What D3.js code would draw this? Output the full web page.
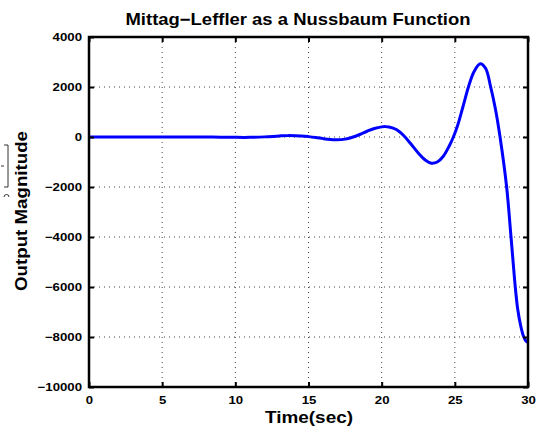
<!DOCTYPE html>
<html><head><meta charset="utf-8">
<script src="https://cdn.jsdelivr.net/npm/d3@7"></script>
<style>body{margin:0;background:#fff}svg{display:block}text{font-family:"Liberation Sans",Arial,sans-serif;font-weight:bold}</style>
</head><body>
<svg id="c" width="540" height="434"></svg>
<script>
const title = "Mittag\u2212Leffler as a Nussbaum Function";
const xLabel = "Time(sec)";
const yLabel = "Output Magnitude";
const xTicks = [0,5,10,15,20,25,30];
const yTicks = [4000,2000,0,-2000,-4000,-6000,-8000,-10000];
const timeValues = [0,1,2,3,4,5,6,7,8,9,10,11,12,13,13.6,14.5,15,15.5,16,16.5,16.9,17.5,18,18.5,19,19.5,20,20.25,20.5,21,21.5,22,22.5,23,23.4,23.8,24.2,24.6,24.9,25.2,25.55,25.93,26.3,26.73,27.1,27.45,27.78,28.09,28.54,28.84,29.13,29.3,29.5,29.68,29.85,30];
const outputValues = [0,0,0,0,0.5,1,2,2,0,-6,-14,-14,5,40,55,40,15,-20,-65,-100,-110,-85,-10,100,230,340,405,415,400,300,60,-280,-640,-930,-1050,-1000,-780,-380,0,480,1200,2000,2600,2930,2750,2000,1100,0,-2000,-4000,-6000,-6900,-7550,-7950,-8150,-8220];

const svg = d3.select("#c");
const L=89,R=528,T=37,B=387;
const x = d3.scaleLinear().domain([0,30]).range([L,R]);
const y = d3.scaleLinear().domain([-10000,4000]).range([B,T]);
const fmt = d => d<0 ? "\u2212"+Math.abs(d) : String(d);
function stretch(sel, f){ sel.each(function(){ const n=this; const w=n.getComputedTextLength(); if(w>0){ n.setAttribute("textLength", (w*f).toFixed(1)); n.setAttribute("lengthAdjust","spacingAndGlyphs"); } }); }

// grid
const g = svg.append("g");
g.selectAll("line.gx").data(xTicks.slice(1,-1)).join("line")
  .attr("x1",d=>x(d)).attr("x2",d=>x(d)).attr("y1",T).attr("y2",B)
  .attr("stroke","#444").attr("stroke-width",1).attr("stroke-dasharray","1,4");
g.selectAll("line.gy").data(yTicks.slice(1,-1)).join("line")
  .attr("y1",d=>y(d)).attr("y2",d=>y(d)).attr("x1",L).attr("x2",R)
  .attr("stroke","#444").attr("stroke-width",1).attr("stroke-dasharray","1,4");

// curve
const pts = timeValues.map((t,i)=>[t,outputValues[i]]);
svg.append("path").datum(pts)
  .attr("d", d3.line().x(d=>x(d[0])).y(d=>y(d[1])).curve(d3.curveCatmullRom.alpha(0.5)))
  .attr("fill","none").attr("stroke","#0000ff").attr("stroke-width",3).attr("stroke-linejoin","round");

// axes (ticks inward)
const axB = svg.append("g").attr("transform",`translate(0,${B})`)
  .call(d3.axisBottom(x).tickValues(xTicks).tickSize(-5).tickPadding(9).tickFormat(fmt));
const axT = svg.append("g").attr("transform",`translate(0,${T})`)
  .call(d3.axisTop(x).tickValues(xTicks).tickSize(-5).tickFormat(""));
const axL = svg.append("g").attr("transform",`translate(${L},0)`)
  .call(d3.axisLeft(y).tickValues(yTicks).tickSize(-5).tickPadding(7).tickFormat(fmt));
const axR = svg.append("g").attr("transform",`translate(${R},0)`)
  .call(d3.axisRight(y).tickValues(yTicks).tickSize(-5).tickFormat(""));
[axB,axT,axL,axR].forEach(a=>{
  a.select(".domain").remove();
  a.selectAll(".tick line").attr("stroke","#000").attr("stroke-width",2);
  a.selectAll("text").attr("font-size",11).attr("font-weight","bold").attr("fill","#000")
   .attr("font-family","Liberation Sans, Arial, sans-serif");
});
axB.selectAll("text").attr("dy","0.71em");
stretch(axB.selectAll("text"),1.2);
stretch(axL.selectAll("text"),1.2);
svg.append("rect").attr("x",L).attr("y",T).attr("width",R-L).attr("height",B-T)
  .attr("fill","none").attr("stroke","#000").attr("stroke-width",2.5);

// labels
const tt = svg.append("text").attr("x",298).attr("y",25).attr("text-anchor","middle")
  .attr("font-size",16.5).text(title);
tt.attr("textLength",345).attr("lengthAdjust","spacingAndGlyphs");
svg.append("text").attr("x",309).attr("y",423).attr("text-anchor","middle")
  .attr("font-size",16.5).attr("textLength",88).attr("lengthAdjust","spacingAndGlyphs").text(xLabel);
svg.append("text").attr("transform","translate(27,211) rotate(-90)").attr("text-anchor","middle")
  .attr("font-size",16.5).attr("textLength",160).attr("lengthAdjust","spacingAndGlyphs").text(yLabel);

// stray bracket artifact at left edge
svg.append("path").attr("d","M4,145H8V187H4 M1,166H4").attr("fill","none").attr("stroke","#333").attr("stroke-width",1);
svg.append("path").attr("d","M9,197 A2.5,2.5 0 0 0 4,197").attr("fill","none").attr("stroke","#333").attr("stroke-width",1);
</script>
</body></html>
